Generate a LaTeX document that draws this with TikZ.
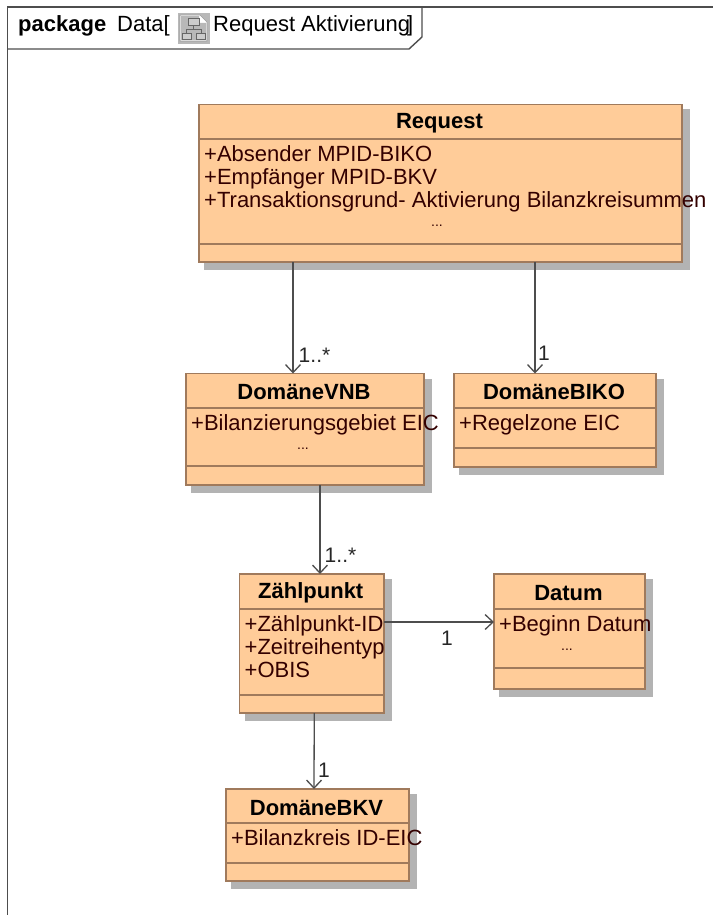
\documentclass[tikz,border=0pt]{standalone}
\usepackage{fontspec}
\setmainfont{Liberation Sans}
\usepackage{tikz}
\usetikzlibrary{arrows.meta}
\definecolor{frameline}{HTML}{4D4D4D}
\definecolor{boxfill}{HTML}{FFCC99}
\definecolor{boxline}{HTML}{A07A5C}
\definecolor{boxshadow}{HTML}{B3B3B3}
\definecolor{attrtext}{HTML}{330000}
\tikzset{
  classframe/.style={draw=boxline,fill=boxfill,line width=1.3pt,inner sep=0pt,outer sep=0pt},
  classtitle/.style={font=\fontsize{22}{23}\selectfont\bfseries,inner sep=0pt},
  classattr/.style={font=\fontsize{22}{23}\selectfont,text=attrtext,align=left,inner sep=0pt,anchor=north west},
  classdots/.style={font=\fontsize{14}{16}\selectfont,text=attrtext,inner sep=0pt},
  assoc/.style={draw=frameline,line width=1.3pt,-{Straight Barb[length=8pt,width=15pt,line width=1.3pt]}},
  multi/.style={font=\fontsize{21}{23}\selectfont,text=black!85,inner sep=0pt},
  tabtext/.style={anchor=base west,inner sep=0pt,font=\fontsize{22}{23}\selectfont}
}
% name, left, top, right, bottom, first divider, second divider, title, attributes
\newcommand{\classbox}[9]{
  \fill[boxshadow] (#2+5,#3+5) rectangle (#4+8,#5+8);
  \node[classframe,minimum width={(#4-#2)*1pt},minimum height={(#5-#3)*1pt}] (#1)
    at ({(#2+#4)/2},{(#3+#5)/2}) {};
  \draw[boxline,line width=1.1pt] (#2,#6) -- (#4,#6);
  \draw[boxline,line width=1.1pt] (#2,#7) -- (#4,#7);
  \node[classtitle] (#1title) at ({(#2+#4)/2-1},{(#3+#6)/2+1.5}) {#8};
  \node[classattr] (#1attr) at (#2+5,#6+6) {#9};
}
\begin{document}
\begin{tikzpicture}[x=1pt,y=-1pt]
  \useasboundingbox (0,0) rectangle (713,915);
  % frame and tab
  \draw[frameline,line width=1.4pt] (7.5,915) -- (7.5,7) -- (713,7);
  \draw[frameline,line width=1.4pt] (7.5,49) -- (409,49) -- (422,37) -- (422,7);
  \node[tabtext,font=\fontsize{22}{23}\selectfont\bfseries] (tabkind) at (18,32) {package};
  \node[tabtext] (tabname) at (117,32) {Data[};
  \node[tabtext] (tabtitle) at (213,32) {Request Aktivierung};
  \node[tabtext] (tabclose) at (407,32) {]};
  % diagram icon
  \filldraw[fill=black!28,draw=black!28] (178,13) rectangle (209,43);
  \filldraw[fill=white,draw=black!40,line width=.6pt] (180,15) -- (200,15) -- (207,22) -- (207,41) -- (180,41) -- cycle;
  \fill[black!28] (181,16) rectangle (199,40) (199,23) rectangle (206,40);
  \draw[black!60,line width=.8pt] (193.5,25) -- (193.5,29) (186,33) -- (186,29) -- (201,29) -- (201,33);
  \filldraw[fill=black!20,draw=black!60,line width=.8pt] (188,18) rectangle (199,25);
  \filldraw[fill=black!20,draw=black!60,line width=.8pt] (182,33) rectangle (191,39);
  \filldraw[fill=black!20,draw=black!60,line width=.8pt] (196,33) rectangle (205,39);
  % classes
  \classbox{request}{199}{104.5}{682}{262}{139}{244}{Request}{+Absender MPID-BIKO\\+Empfänger MPID-BKV\\+Transaktionsgrund- Aktivierung Bilanzkreisummen}
  \classbox{vnb}{186}{373.5}{424}{485}{408}{466}{DomäneVNB}{+Bilanzierungsgebiet EIC}
  \classbox{biko}{454}{373.5}{656}{467}{408}{448}{DomäneBIKO}{+Regelzone EIC}
  \classbox{zaehlpunkt}{239.5}{574}{384}{713}{609}{695}{Zählpunkt}{+Zählpunkt-ID\\+Zeitreihentyp\\+OBIS}
  \classbox{datum}{494}{574}{645}{689}{609}{668}{Datum}{+Beginn Datum}
  \classbox{bkv}{226}{789}{409}{881}{823}{863}{DomäneBKV}{+Bilanzkreis ID-EIC}
  \node[classdots] (requestdots) at (437,226) {...};
  \node[classdots] (vnbdots) at (303,449) {...};
  \node[classdots] (datumdots) at (567,650) {...};
  % associations
  \draw[assoc] ([xshift=-147.5pt]request.south) -- ([xshift=-12pt]vnb.north);
  \draw[assoc] ([xshift=94.5pt]request.south) -- ([xshift=-20pt]biko.north);
  \draw[assoc] ([xshift=15pt]vnb.south) -- ([xshift=15pt]vnb.south |- zaehlpunkt.north);
  \draw[assoc] ([yshift=21.5pt]zaehlpunkt.east) -- ([yshift=9.5pt]datum.west);
  \draw[assoc] ([xshift=2.5pt]zaehlpunkt.south) -- ([xshift=-3.5pt]bkv.north);
  \node[multi] (vnbmulti) at (314.5,355) {1..*};
  \node[multi] (bikomulti) at (544,353) {1};
  \node[multi] (zaehlmulti) at (340.5,555) {1..*};
  \node[multi] (datummulti) at (447,638) {1};
  \node[multi] (bkvmulti) at (324,770) {1};
\end{tikzpicture}
\end{document}
